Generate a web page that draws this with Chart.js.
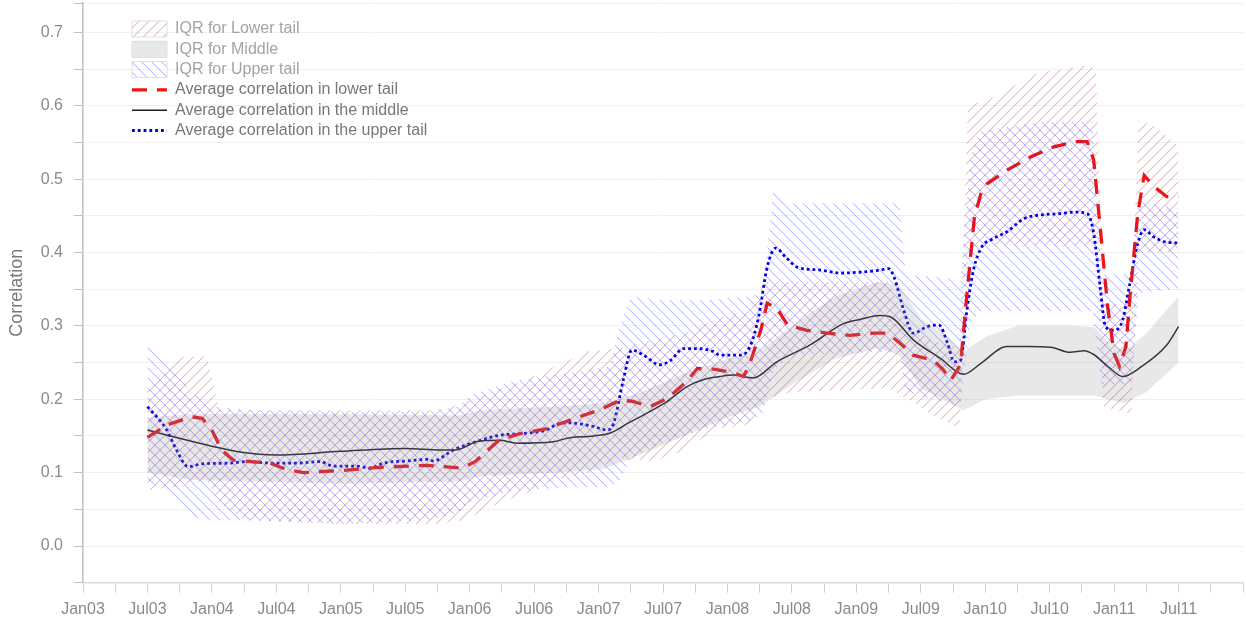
<!DOCTYPE html>
<html><head><meta charset="utf-8">
<script src="https://cdn.jsdelivr.net/npm/chart.js@4.4.1/dist/chart.umd.min.js"></script>
<style>html,body{margin:0;padding:0;background:#fff;}canvas{display:block;}</style>
</head><body>
<canvas id="c" width="1246" height="624"></canvas>
<script>
// x values are months since Jan 2003
const xTickLabels = ['Jan03','Jul03','Jan04','Jul04','Jan05','Jul05','Jan06','Jul06','Jan07','Jul07','Jan08','Jul08','Jan09','Jul09','Jan10','Jul10','Jan11','Jul11'];

const redX = [6,7.8,10.1,11.1,12,12.9,14,15.6,17.4,19,20.5,24.2,27.4,32,35.3,36.5,38.8,40.7,43.2,46,48.2,50,51.2,52.8,54.4,56.2,57.2,58.7,60.3,61.5,62.1,63.1,63.7,64.6,65.6,67.4,69.3,71.4,73.6,74.9,76.1,77.3,79.2,80.1,80.8,81.7,82.3,83,83.6,84.2,86,88.2,90.4,92.3,93.5,94.1,94.7,95.4,96,96.5,97.1,97.5,98.2,98.8,99.7,100.9,102];
const redY = [0.148,0.165,0.176,0.174,0.158,0.131,0.117,0.115,0.113,0.104,0.100,0.103,0.107,0.110,0.106,0.115,0.145,0.153,0.160,0.175,0.186,0.199,0.197,0.190,0.201,0.224,0.242,0.241,0.237,0.231,0.249,0.294,0.331,0.324,0.301,0.294,0.290,0.287,0.290,0.290,0.276,0.260,0.253,0.240,0.226,0.247,0.344,0.449,0.480,0.494,0.512,0.530,0.544,0.551,0.551,0.526,0.435,0.326,0.262,0.245,0.272,0.344,0.453,0.505,0.490,0.476,0.476];

const blackX = [6,8.1,12,14.6,18,24,30,33.3,34.7,36.9,38.8,40.4,43.8,45.1,47.5,49.1,50.7,52.5,54.4,56.2,57.8,59.3,60.5,62.4,64.6,67.7,70.8,72.4,74.2,75.2,77.3,79.8,82,83.6,86,88,90.1,91.9,93.2,94.1,95.4,96.8,98.5,100.9,102];
const blackY = [0.158,0.150,0.136,0.128,0.124,0.129,0.133,0.131,0.131,0.143,0.144,0.140,0.142,0.147,0.150,0.154,0.167,0.181,0.197,0.217,0.227,0.231,0.233,0.229,0.251,0.274,0.303,0.309,0.314,0.312,0.281,0.256,0.234,0.249,0.272,0.272,0.271,0.264,0.266,0.261,0.245,0.231,0.244,0.274,0.299];

const blueX = [6,7.8,8.7,9.8,11.1,13.7,15.2,17.7,19.9,22.1,23.3,25.5,26.7,28,30.2,32,32.6,34.5,37,38.8,40.7,42.9,44.7,46,47.5,48.8,49.4,50.3,51.1,52.2,53.7,54.7,55.9,57.2,58.7,59.3,61.2,62.1,62.9,63.7,64.5,65.4,66.5,68.7,70.5,73,74.2,75,75.5,76.4,77.3,78.6,79.7,80.5,81.1,81.7,82.3,82.9,83.7,84.5,86,87.6,89.1,91,92.3,93.5,94.1,94.7,95.2,96,96.8,97.4,98.2,98.8,99.7,100.9,102];
const blueY = [0.190,0.158,0.131,0.108,0.112,0.113,0.115,0.113,0.113,0.115,0.109,0.109,0.106,0.113,0.116,0.118,0.116,0.131,0.144,0.151,0.153,0.157,0.168,0.167,0.163,0.158,0.167,0.226,0.267,0.260,0.247,0.253,0.269,0.269,0.265,0.260,0.260,0.272,0.312,0.380,0.406,0.394,0.380,0.376,0.372,0.374,0.376,0.378,0.367,0.322,0.290,0.299,0.301,0.276,0.251,0.253,0.322,0.376,0.408,0.417,0.428,0.446,0.451,0.453,0.455,0.453,0.426,0.353,0.299,0.294,0.308,0.353,0.412,0.431,0.421,0.414,0.413];

const redBandX  = [6,8.5,11.5,12.7,15,24,33,35.5,39,41,44,47,50,53,56,59,62,63.5,66,75,76.8,79,81.6,82.4,84.5,87,89,93.6,94.3,95,97.6,98.3,99.5,102];
const redBandHi = [0.22,0.258,0.258,0.185,0.185,0.185,0.185,0.195,0.215,0.225,0.245,0.265,0.27,0.28,0.29,0.31,0.32,0.36,0.36,0.36,0.30,0.28,0.27,0.60,0.61,0.63,0.645,0.655,0.65,0.33,0.33,0.58,0.575,0.545];
const redBandLo = [0.076,0.08,0.09,0.06,0.035,0.03,0.03,0.035,0.06,0.07,0.09,0.10,0.12,0.115,0.13,0.16,0.165,0.20,0.21,0.215,0.20,0.18,0.16,0.40,0.41,0.41,0.41,0.41,0.41,0.19,0.18,0.40,0.40,0.40];

const greyBandX  = [6,10,24,35,37,44,48.5,52,56,60,63,66,70,74,76,78,80,82,84,87,92,94.2,95.3,97,99,102];
const greyBandHi = [0.175,0.18,0.18,0.178,0.185,0.19,0.195,0.21,0.235,0.255,0.265,0.30,0.34,0.36,0.355,0.31,0.29,0.265,0.285,0.30,0.30,0.298,0.28,0.265,0.29,0.34];
const greyBandLo = [0.10,0.09,0.085,0.088,0.095,0.10,0.105,0.125,0.15,0.175,0.19,0.22,0.255,0.27,0.26,0.215,0.20,0.185,0.20,0.205,0.205,0.205,0.20,0.195,0.21,0.25];

const blueBandX  = [6,8,10,12,16,24,32,35,36,40,45,49,50,51,54,58,62,63.3,64.3,66,76,76.6,80.5,81.7,82.6,83.5,89,94,94.8,97.6,98.3,102];
const blueBandHi = [0.28,0.25,0.21,0.19,0.185,0.183,0.183,0.19,0.205,0.225,0.235,0.245,0.30,0.34,0.335,0.335,0.34,0.345,0.49,0.467,0.467,0.37,0.365,0.36,0.53,0.565,0.578,0.578,0.37,0.37,0.47,0.46];
const blueBandLo = [0.09,0.07,0.04,0.035,0.035,0.03,0.035,0.045,0.06,0.075,0.08,0.08,0.09,0.12,0.14,0.16,0.17,0.18,0.24,0.26,0.265,0.21,0.195,0.19,0.30,0.32,0.32,0.32,0.22,0.22,0.345,0.35];

const pts = (xs, ys) => xs.map((x, i) => ({x: x, y: ys[i]}));

function hatch(r, g0, b, a, dir) {
  const s = 10;
  const c = document.createElement('canvas');
  c.width = s; c.height = s;
  const g = c.getContext('2d');
  const img = g.createImageData(s, s);
  const put = (px, py, alpha) => {
    if (px < 0 || py < 0 || px >= s || py >= s) return;
    const k = (py * s + px) * 4;
    img.data[k] = r; img.data[k + 1] = g0; img.data[k + 2] = b;
    img.data[k + 3] = Math.max(img.data[k + 3], Math.round(alpha * 255));
  };
  for (let i = 0; i < s; i++) {
    const py = dir > 0 ? s - 1 - i : i;
    put(i, py, a);
    put(i, (py + 1) % s, a * 0.3);
  }
  g.putImageData(img, 0, 0);
  return g.createPattern(c, 'repeat');
}

const FONT = '"Liberation Sans", Arial, Helvetica, sans-serif';
Chart.defaults.font.family = FONT;

const redHatch = hatch(255, 0, 0, 0.32, 1);
const blueHatch = hatch(0, 0, 255, 0.27, -1);
const greyFill = 'rgba(150,150,150,0.22)';
const none = 'rgba(0,0,0,0)';
const band = {pointRadius: 0, borderWidth: 1, borderColor: none, tension: 0};

const legendMover = {
  id: 'legendMover',
  beforeDraw(chart) {
    const l = chart.legend;
    if (!l) return;
    l.left = 127.7; l.top = 16.7; l.right = 1240; l.bottom = 620;
  }
};

new Chart(document.getElementById('c'), {
  type: 'line',
  data: {
    datasets: [
      Object.assign({}, band, {label: 'IQR for Lower tail', data: pts(redBandX, redBandHi), backgroundColor: redHatch, fill: '+1'}),
      Object.assign({}, band, {label: '', data: pts(redBandX, redBandLo), fill: false}),
      Object.assign({}, band, {label: 'IQR for Middle', data: pts(greyBandX, greyBandHi), backgroundColor: greyFill, fill: '+1'}),
      Object.assign({}, band, {label: '', data: pts(greyBandX, greyBandLo), fill: false}),
      Object.assign({}, band, {label: 'IQR for Upper tail', data: pts(blueBandX, blueBandHi), backgroundColor: blueHatch, fill: '+1'}),
      Object.assign({}, band, {label: '', data: pts(blueBandX, blueBandLo), fill: false}),
      {label: 'Average correlation in lower tail', data: pts(redX, redY), borderColor: 'rgb(238,22,22)', borderWidth: 3.3, borderDash: [15, 10], pointRadius: 0, tension: 0, fill: false},
      {label: 'Average correlation in the middle', data: pts(blackX, blackY), borderColor: '#1e1e1e', borderWidth: 1.5, pointRadius: 0, cubicInterpolationMode: 'monotone', fill: false},
      {label: 'Average correlation in the upper tail', data: pts(blueX, blueY), borderColor: 'rgb(0,0,225)', borderWidth: 2.8, borderDash: [2.8, 3], pointRadius: 0, cubicInterpolationMode: 'monotone', fill: false}
    ]
  },
  options: {
    responsive: false,
    animation: false,
    devicePixelRatio: 1,
    layout: {padding: {left: 0, right: 3, top: 3, bottom: 0}},
    scales: {
      x: {
        type: 'linear', min: 0, max: 108, bounds: 'data',
        ticks: {
          stepSize: 3, autoSkip: false, maxRotation: 0, minRotation: 0, includeBounds: false,
          color: '#8a8a8a', font: {size: 16}, padding: 7,
          callback: (v) => (v % 6 === 0 && xTickLabels[v / 6] !== undefined) ? xTickLabels[v / 6] : ''
        },
        grid: {drawOnChartArea: false, tickLength: 10, tickColor: '#d0d0d0'},
        border: {color: '#dcdcdc', width: 1.5},
        afterFit(s) { s.height = 624 - 582.7; s.paddingLeft = 0; s.paddingRight = 0; }
      },
      y: {
        type: 'linear', min: -0.05, max: 0.74, bounds: 'data',
        ticks: {
          stepSize: 0.05, includeBounds: false, color: '#8a8a8a', font: {size: 16}, padding: 11,
          callback: (v) => { const k = Math.round(v * 20); return (k >= 0 && k % 2 === 0) ? (k / 20).toFixed(1) : ''; }
        },
        grid: {color: '#f0f0f0', tickLength: 9, tickColor: '#c0c0c0'},
        border: {color: '#bdbdbd', width: 1.5},
        title: {display: true, text: 'Correlation', color: '#7a7a7a', font: {size: 18}, padding: {top: 6, bottom: 0}},
        afterFit(s) { s.width = 83; s.paddingTop = 0; s.paddingBottom = 0; }
      }
    },
    plugins: {
      tooltip: {enabled: false},
      legend: {
        position: 'chartArea',
        align: 'start',
        labels: {
          usePointStyle: true,
          pointStyleWidth: 35,
          boxHeight: 16,
          padding: 4.3,
          font: {size: 16},
          generateLabels(chart) {
            const out = [];
            chart.data.datasets.forEach((ds, i) => {
              if (!ds.label) return;
              if (ds.fill) {
                out.push({text: ds.label, fillStyle: ds.backgroundColor, strokeStyle: '#dedede', lineWidth: 1, pointStyle: 'rect', fontColor: '#a3a3a3', datasetIndex: i, hidden: false});
              } else {
                out.push({text: ds.label, fillStyle: ds.borderColor, strokeStyle: ds.borderColor, lineWidth: ds.borderWidth, lineDash: ds.borderDash || [], pointStyle: 'line', fontColor: '#777777', datasetIndex: i, hidden: false});
              }
            });
            return out;
          }
        }
      }
    }
  },
  plugins: [legendMover]
});
</script>
</body></html>
